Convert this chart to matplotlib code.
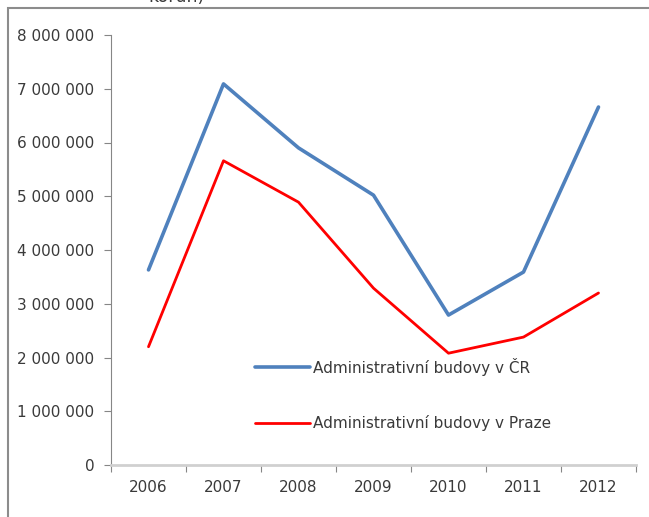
import matplotlib.pyplot as plt
import numpy as np
from matplotlib.patches import Rectangle
from matplotlib.ticker import FuncFormatter, FixedLocator

plt.rcParams["font.family"] = ["DejaVu Sans"]

years = ["2006", "2007", "2008", "2009", "2010", "2011", "2012"]
cr = [3630000, 7090000, 5900000, 5020000, 2790000, 3590000, 6660000]
praha = [2200000, 5660000, 4890000, 3290000, 2080000, 2380000, 3200000]
labels = ["Administrativní budovy v ČR", "Administrativní budovy v Praze"]


def fmt(v, pos):
    return f"{int(v):,}".replace(",", " ")


fig = plt.figure(figsize=(6.49, 5.17), dpi=100)
ax = fig.add_axes([111 / 649, 1 - 465 / 517, 525 / 649, 430 / 517])

x = np.arange(len(years))
ax.plot(x, cr, color="#4F81BD", lw=2.6, label=labels[0], solid_capstyle="round")
ax.plot(x, praha, color="#FF0000", lw=2.0, label=labels[1], solid_capstyle="round")

ax.set_xlim(-0.5, len(years) - 0.5)
ax.set_ylim(0, 8000000)
ax.yaxis.set_major_locator(FixedLocator(np.arange(0, 8000001, 1000000)))
ax.yaxis.set_major_formatter(FuncFormatter(fmt))
ax.set_xticks(x)
ax.set_xticklabels(years)
ax.set_xticks(np.arange(-0.5, len(years)), minor=True)

for s in ["top", "right"]:
    ax.spines[s].set_visible(False)
ax.spines["left"].set_color("#868686")
ax.spines["left"].set_linewidth(0.8)
ax.spines["bottom"].set_color("#d0d0d0")
ax.spines["bottom"].set_linewidth(2)

ax.tick_params(axis="y", length=5, width=0.8, color="#868686", labelsize=11,
               labelcolor="#3a3a3a", pad=7)
ax.tick_params(axis="x", which="major", length=0, labelsize=11,
               labelcolor="#3a3a3a", pad=11)
ax.tick_params(axis="x", which="minor", length=5, width=0.8, color="#868686")

leg = ax.legend(loc="center left", bbox_to_anchor=(0.263, 0.164), frameon=False,
                borderaxespad=0, handlelength=3.6, handletextpad=0.2,
                labelspacing=2.6, fontsize=11)
for t in leg.get_texts():
    t.set_color("#3a3a3a")

fig.add_artist(Rectangle((8 / 649, -0.1), 1.2, 1 - 8 / 517 + 0.1,
                         transform=fig.transFigure, fill=False,
                         edgecolor="#8c8c8c", lw=1.5))
# title of the chart is cut off by the crop, only its bottom shows
fig.text(176 / 649, 1 - 2.5 / 517, "korun)", ha="center", va="baseline",
         fontsize=12.5, color="#3a3a3a")

fig.savefig("out.png", dpi=100)
